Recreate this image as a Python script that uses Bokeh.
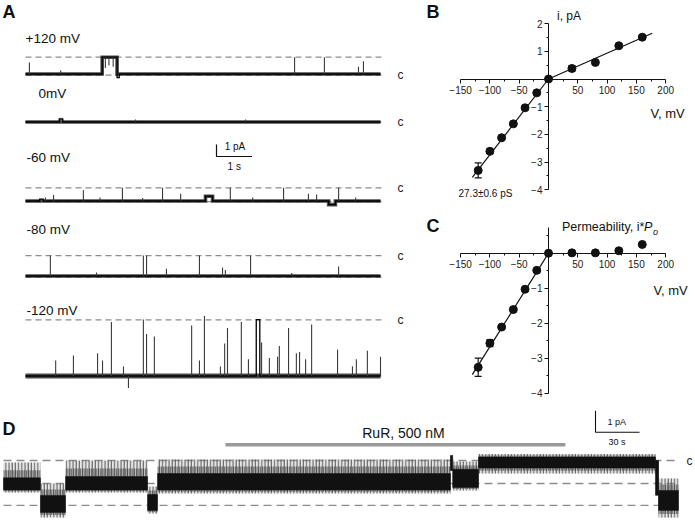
from bokeh.plotting import figure
from bokeh.layouts import column, row
from bokeh.models import Range1d, LinearAxis, FixedTicker, Whisker, TeeHead, ColumnDataSource
from bokeh.embed import file_html
from bokeh.resources import INLINE
from bokeh.core.properties import value

FONT = "Liberation Sans"
INK = "#111111"
DASH_C = "#8c8c8c"

# ---------------- DATA ----------------
# Panel A: 10 s single-channel records (time s, current pA relative to the trace baseline)
A_LABELS = ["+120 mV", "0mV", "-60 mV", "-80 mV", "-120 mV"]
A_C_LEVEL = [-0.1, 0.0, 1.1, 1.7, 4.68]        # closed level (dashed, "c")
A_O_LEVEL = [1.4, None, -0.05, -0.1, 0.0]       # second dashed level

A_EVT_T0 = [[2.16, 2.58], [0.95], [0.40, 5.07, 8.54], [], [6.50]]
A_EVT_T1 = [[2.58, 2.64], [1.05], [0.50, 5.27, 8.73], [], [6.60]]
A_EVT_LV = [[1.4, -0.3], [0.25], [0.15, 0.4, -0.3], [], [4.7]]

A_SPK_T = [
    [0.11, 0.99, 2.25, 2.35, 2.47, 7.58, 8.42, 9.38, 9.52],
    [0.99, 3.10, 6.20],
    [0.56, 0.79, 1.63, 2.10, 2.73, 3.30, 3.86, 4.37, 5.77, 6.40, 7.27, 7.97, 8.20, 8.82, 9.30],
    [0.70, 2.00, 3.32, 3.41, 3.97, 4.90, 5.55, 5.63, 6.34, 7.50, 8.82],
    [0.85, 1.35, 2.03, 2.17, 2.42, 2.76, 2.90, 3.32, 3.41, 3.63, 4.68, 4.90, 5.04, 5.49, 5.61, 5.69,
     6.08, 6.28, 6.65, 6.87, 7.10, 7.15, 7.41, 7.63, 7.72, 7.89, 8.06, 8.79, 9.21, 9.32, 9.63, 10.0],
]
A_SPK_TOP = [
    [0.95, 0.3, 0.5, 0.7, 0.6, 1.4, 1.4, 0.6, 1.07],
    [0.35, 0.2, 0.2],
    [0.3, 0.5, 0.9, 0.3, 1.1, 0.25, 1.1, 0.6, 1.1, 0.3, 1.1, 0.6, 0.55, 1.1, 0.3],
    [1.7, 0.3, 1.7, 1.7, 0.6, 1.7, 0.7, 0.5, 1.7, 0.25, 0.8],
    [1.3, 1.7, 1.9, 1.3, 4.5, 0.8, -1.0, 4.7, 3.5, 3.3, 4.2, 1.3, 5.0, 0.8, 2.7, 4.0,
     4.5, 1.4, 2.8, 1.5, 1.6, 2.5, 4.0, 1.9, 2.0, 1.4, 4.3, 2.2, 0.8, 1.4, 2.1, 1.6],
]
A_SPK_BOT = [
    [0, 0, 1.4, 1.4, 1.4, 0, 0, 0, 0],
    None, None, None, None,
]
A_DURATION = 10.0

# Panels B, C: I-V relations
V_MV = [-120, -100, -80, -60, -40, -20, 0, 40, 80, 120, 160]
I_PA = [-3.30, -2.61, -2.12, -1.62, -1.04, -0.50, 0.0, 0.38, 0.60, 1.20, 1.51]
I_ERR = [0.27, 0.08, 0.05, 0.05, 0.05, 0.03, 0.0, 0.10, 0.05, 0.05, 0.04]
P_IPO = [-3.26, -2.57, -2.11, -1.61, -1.03, -0.49, 0.0, 0.01, 0.01, 0.07, 0.25]
P_ERR = [0.26, 0.10, 0.05, 0.05, 0.05, 0.03, 0.0, 0.0, 0.0, 0.0, 0.0]
FIT_B_NEG_V, FIT_B_NEG_I = [-130, 0], [-3.55, 0.0]
FIT_B_POS_V, FIT_B_POS_I = [0, 177], [0.0, 1.65]
FIT_C_V, FIT_C_I = [-130, 0], [-3.47, 0.0]

# Panel D: long record, segments (s) with core band and flicker envelope (pA from closed level)
D_T0 = [0, 25.2, 42.3, 98.2, 105.0, 304.7, 306.2, 323.8, 444.5, 446.5]
D_T1 = [25.2, 42.3, 98.2, 105.0, 304.7, 306.2, 323.8, 444.5, 446.5, 460.1]
D_CORE_HI = [-0.80, -1.61, -0.74, -1.57, -0.60, 0.23, -0.40, 0.16, 0.0, -1.38]
D_CORE_LO = [-1.36, -2.40, -1.36, -2.30, -1.36, -0.46, -1.24, -0.35, -1.6, -2.30]
D_FLK_HI = [-0.09, -1.06, 0.0, -1.2, 0.05, 0.23, -0.05, 0.30, 0.0, -0.83]
D_FLK_LO = [-1.47, -2.63, -1.47, -2.44, -1.52, -0.46, -1.38, -0.60, -1.6, -2.63]
D_LEVELS = [0.0, -1.06, -2.07]
RUR_T = [151.3, 383.0]
RUR_TEXT = "RuR, 500 nM"

# ---------------- PANEL A ----------------
A_W, A_H = 415, 410
PX_S, PX_PA = 35.5, 12.0
def ax(sx):  # page x -> time
    return (sx - 25) / PX_S
def ay(sy):  # page y -> pA units
    return (410 - sy) / PX_PA

pA = figure(width=A_W, height=A_H, x_range=Range1d(ax(0), ax(A_W)),
            y_range=Range1d(ay(410), ay(0)), x_axis_type=None, y_axis_type=None,
            min_border=0, toolbar_location=None, output_backend="svg",
            outline_line_color=None, background_fill_color="white")
pA.grid.visible = False

BASE_PX = [73.5, 121.5, 200.5, 275.5, 375.5]
LABEL_XY = [(25, 38), (38, 93), (26, 157), (26, 229), (26, 310)]
for i in range(5):
    B = ay(BASE_PX[i])
    for lv in (A_C_LEVEL[i], A_O_LEVEL[i]):
        if lv is None:
            continue
        pA.line([0, A_DURATION + 0.14], [B + lv, B + lv], line_color=DASH_C,
                line_dash="6 4", line_width=1.2)
    evts = sorted(zip(A_EVT_T0[i], A_EVT_T1[i], A_EVT_LV[i]))
    xs, ys = [0.0], [B]          # full step path
    bx_, by_ = [0.0], [B]        # path for the noise band (long dwell events only)
    for t0, t1, lv in evts:
        xs += [t0, t0, t1, t1]
        ys += [B, B + lv, B + lv, B]
        if t1 - t0 >= 0.15:
            bx_ += [t0, t0, t1, t1]
            by_ += [B, B + lv, B + lv, B]
    xs.append(A_DURATION)
    ys.append(B)
    bx_.append(A_DURATION)
    by_.append(B)
    pA.line(bx_, by_, line_color="#2a2a2a", line_alpha=0.85, line_width=5.0 if i == 4 else 3.6,
            line_join="miter")
    pA.line(xs, ys, line_color="#000000", line_width=1.3, line_join="miter")
    bot = A_SPK_BOT[i] if A_SPK_BOT[i] is not None else [0] * len(A_SPK_T[i])
    pA.segment(A_SPK_T[i], [B + b for b in bot], A_SPK_T[i], [B + a for a in A_SPK_TOP[i]],
               line_color="#3a3a3a", line_width=1.1)
    lx, ly = LABEL_XY[i]
    pA.text([ax(lx)], [ay(ly)], text=[A_LABELS[i]], text_font=value(FONT), text_font_size="13.5px",
            text_baseline="middle", text_color=INK)
    pA.text([ax(397)], [B + A_C_LEVEL[i]], text=["c"], text_font=value(FONT), text_font_size="12px",
            text_baseline="middle", text_color="#222222")

pA.text([ax(2)], [ay(11)], text=["A"], text_font=value(FONT), text_font_size="18px",
        text_font_style="bold", text_baseline="middle", text_color=INK)
sb_t, sb_y = ax(216), ay(156)
pA.line([sb_t, sb_t, sb_t + 1.0], [sb_y + 1.0, sb_y, sb_y], line_color=INK, line_width=1.2)
pA.text([sb_t + 0.23], [sb_y + 0.8], text=["1 pA"], text_font=value(FONT), text_font_size="10px",
        text_baseline="middle", text_color=INK)
pA.text([sb_t + 0.5], [ay(165.5)], text=["1 s"], text_font=value(FONT), text_font_size="10px",
        text_baseline="middle", text_align="center", text_color=INK)

# ---------------- PANELS B, C ----------------
PX_MV = 0.586
X0 = 548.0
R_W, R_H = 280, 205
def iv_fig(y0, ppa, top, ybounds, yticks, yminor):
    p = figure(width=R_W, height=R_H,
               x_range=Range1d((415 - X0) / PX_MV, (415 + R_W - X0) / PX_MV),
               y_range=Range1d((y0 - (top + R_H)) / ppa, (y0 - top) / ppa),
               x_axis_type=None, y_axis_type=None, min_border=0, toolbar_location=None,
               output_backend="svg", outline_line_color=None)
    p.grid.visible = False
    xa = LinearAxis(fixed_location=0, bounds=(-150, 200),
                    ticker=FixedTicker(ticks=[-150, -100, -50, 50, 100, 150, 200],
                                       minor_ticks=[-125, -75, -25, 25, 75, 125, 175]))
    ya = LinearAxis(fixed_location=0, bounds=ybounds,
                    ticker=FixedTicker(ticks=yticks, minor_ticks=yminor))
    for a in (xa, ya):
        a.axis_line_color = INK
        a.major_tick_line_color = INK
        a.minor_tick_line_color = INK
        a.major_tick_in = 0
        a.major_tick_out = 4
        a.minor_tick_in = 0
        a.minor_tick_out = 2
        a.major_label_text_font = FONT
        a.major_label_text_font_size = "10px"
        a.major_label_text_color = "#222222"
    xa.major_label_standoff = 3
    ya.major_label_standoff = 2
    p.add_layout(xa, "below")
    p.add_layout(ya, "left")
    sx = lambda px: (px - X0) / PX_MV
    sy = lambda py: (y0 - py) / ppa
    return p, sx, sy

def add_points(p, yv, err):
    lo = [y - e for y, e in zip(yv, err)]
    hi = [y + e for y, e in zip(yv, err)]
    src = ColumnDataSource(dict(x=V_MV, lo=lo, hi=hi))
    w = Whisker(base="x", lower="lo", upper="hi", source=src, line_color=INK, line_width=1.2,
                upper_head=TeeHead(size=7, line_color=INK, line_width=1.2),
                lower_head=TeeHead(size=7, line_color=INK, line_width=1.2))
    p.add_layout(w)
    p.scatter(V_MV, yv, size=8, fill_color=INK, line_color=INK)

def txt(p, x, y, s, size, **kw):
    p.text([x], [y], text=[s], text_font=value(FONT), text_font_size=size,
           text_baseline="middle", text_color=kw.pop("color", INK), **kw)

pB, bx, by = iv_fig(78.5, 27.7, 0, (-4, 2), [-4, -3, -2, -1, 1, 2],
                    [-3.5, -2.5, -1.5, -0.5, 0.5, 1.5])
pB.line(FIT_B_NEG_V, FIT_B_NEG_I, line_color=INK, line_width=1.2)
pB.line(FIT_B_POS_V, FIT_B_POS_I, line_color=INK, line_width=1.2)
add_points(pB, I_PA, I_ERR)
txt(pB, bx(426), by(11), "B", "18px", text_font_style="bold")
txt(pB, bx(556.5), by(15), "i, pA", "12px")
txt(pB, bx(650), by(113), "V, mV", "13px")
txt(pB, bx(458), by(193), "27.3\u00b10.6 pS", "10px")

pC, cx, cy = iv_fig(252.7, 35.0, R_H, (-4, 0.73), [-4, -3, -2, -1],
                    [-3.5, -2.5, -1.5, -0.5, 0.5])
pC.line(FIT_C_V, FIT_C_I, line_color=INK, line_width=1.2)
add_points(pC, P_IPO, P_ERR)
txt(pC, cx(426), cy(225), "C", "18px", text_font_style="bold")
txt(pC, cx(561.5), cy(226), "Permeability, i*", "12.5px")
txt(pC, cx(643.5), cy(226), "P", "12.5px", text_font_style="italic")
txt(pC, cx(652.5), cy(231), "o", "9px", text_font_style="italic")
txt(pC, cx(653), cy(290), "V, mV", "13px")

# ---------------- PANEL D ----------------
D_W, D_H = 695, 113
PX_SD, PX_PAD = 1.467, 21.7
def dx(sx):
    return (sx - 3) / PX_SD
def dy(sy):
    return (460 - sy) / PX_PAD

pD = figure(width=D_W, height=D_H, x_range=Range1d(dx(0), dx(D_W)),
            y_range=Range1d(dy(410 + D_H), dy(410)), x_axis_type=None, y_axis_type=None,
            min_border=0, toolbar_location=None, output_backend="svg",
            outline_line_color=None)
pD.grid.visible = False
t_end = D_T1[-1]
for lv in D_LEVELS:
    pD.line([0, t_end - 0.7], [lv, lv], line_color=DASH_C, line_dash="8 5", line_width=1.3)
mid_hi = [(a + b) / 2 for a, b in zip(D_FLK_HI, D_CORE_HI)]
mid_lo = [(a + b) / 2 for a, b in zip(D_FLK_LO, D_CORE_LO)]
pD.quad(left=D_T0, right=D_T1, top=D_FLK_HI, bottom=D_FLK_LO, fill_color="#9a9a9a",
        fill_alpha=0.25, line_alpha=0, hatch_pattern="vertical_line", hatch_scale=3.2,
        hatch_weight=1, hatch_color="#555555")
pD.quad(left=D_T0, right=D_T1, top=mid_hi, bottom=mid_lo, fill_color="#777777",
        fill_alpha=0.35, line_alpha=0, hatch_pattern="vertical_line", hatch_scale=1.8,
        hatch_weight=1.1, hatch_color="#1e1e1e")
pD.quad(left=D_T0, right=D_T1, top=D_CORE_HI, bottom=D_CORE_LO, fill_color=INK, line_color=INK,
        line_width=0.5)
pD.line(RUR_T, [dy(444.3)] * 2, line_color="#9a9a9a", line_width=3.5)
txt(pD, dx(403), dy(432.7), RUR_TEXT, "14px", text_align="center")
txt(pD, dx(2), dy(428), "D", "18px", text_font_style="bold")
txt(pD, dx(686), 0.0, "c", "12px", color="#222222")
sbx = dx(595)
pD.line([sbx, sbx, sbx + 30], [dy(431.7) + 1.0, dy(431.7), dy(431.7)], line_color=INK, line_width=1.1)
txt(pD, dx(607), dy(421.5), "1 pA", "9px")
txt(pD, dx(608), dy(441.5), "30 s", "9px")

layout = column(row(pA, column(pB, pC)), pD)
open("out.html", "w").write(file_html(layout, INLINE))
